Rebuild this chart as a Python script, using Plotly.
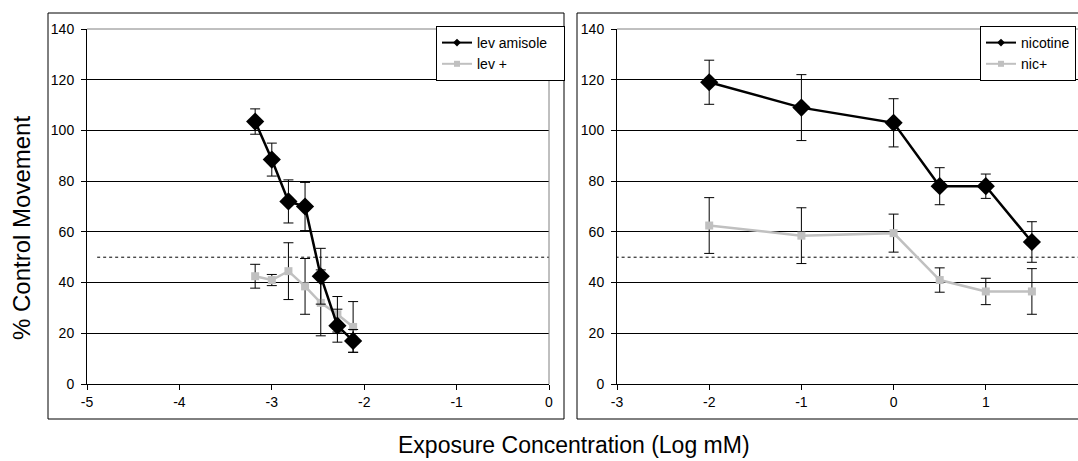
import plotly.graph_objects as go

# ---- data ----
lev_x = [-3.18, -3.0, -2.82, -2.64, -2.47, -2.29, -2.12]
levamisole = [103.5, 88.5, 72, 70, 42.5, 23, 17]
levamisole_err = [5, 6.5, 8.5, 9.5, 11, 6.5, 4.5]
lev_plus = [42.5, 41, 44.5, 38.5, 32, 27.5, 22.5]
lev_plus_err = [4.7, 2.2, 11.2, 11, 13, 7, 10]

nic_x = [-2, -1, 0, 0.5, 1, 1.5]
nicotine = [119, 109, 103, 78, 78, 56]
nicotine_err = [8.7, 13, 9.5, 7.3, 4.8, 8]
nic_plus = [62.5, 58.5, 59.5, 41, 36.5, 36.5]
nic_plus_err = [11, 11, 7.5, 4.8, 5.2, 9]

threshold = 50
y_ticks = [0, 20, 40, 60, 80, 100, 120, 140]
left_x_ticks = [-5, -4, -3, -2, -1, 0]
right_x_ticks = [-3, -2, -1, 0, 1, 2]

W, H = 1078, 461
FONT = "Liberation Sans, Arial, sans-serif"
BLACK = "#000000"
GREY = "#c0c0c0"
PAD = "\u00a0\u00a0\u00a0"  # extra room at the end of a legend label


def px(x):
    return x / W


def py(y):
    return 1 - y / H


def tick_text(vals):
    # plain hyphen for negative numbers
    return [str(v) for v in vals]


fig = go.Figure()


def add_series(x, y, err, color, symbol, size, lw, xa, ya):
    fig.add_trace(go.Scatter(
        x=x, y=y, mode="lines+markers", xaxis=xa, yaxis=ya, showlegend=False,
        line=dict(color=color, width=lw),
        marker=dict(color=color, symbol=symbol, size=size),
        error_y=dict(type="data", array=err, visible=True, color=BLACK,
                     thickness=1, width=5),
    ))


# grey series underneath, black series on top
add_series(lev_x, lev_plus, lev_plus_err, GREY, "square", 8, 2.5, "x", "y")
add_series(lev_x, levamisole, levamisole_err, BLACK, "diamond", 14, 2.5, "x", "y")
add_series(nic_x, nic_plus, nic_plus_err, GREY, "square", 8, 2.5, "x2", "y2")
add_series(nic_x, nicotine, nicotine_err, BLACK, "diamond", 14, 2.5, "x2", "y2")


# legend entries (small marker on a line)
def add_legend_entry(name, color, symbol, legend, xa, ya):
    fig.add_trace(go.Scatter(
        x=[None], y=[None], name=name, mode="lines+markers", legend=legend,
        xaxis=xa, yaxis=ya,
        line=dict(color=color, width=2),
        marker=dict(color=color, symbol=symbol, size=6),
    ))


add_legend_entry("lev amisole" + PAD, BLACK, "diamond", "legend", "x", "y")
add_legend_entry("lev +", GREY, "square", "legend", "x", "y")
add_legend_entry("nicotine", BLACK, "diamond", "legend2", "x2", "y2")
add_legend_entry("nic+", GREY, "square", "legend2", "x2", "y2")

ydom = [py(384), py(29)]
axis_common = dict(
    showgrid=False, zeroline=False, showline=True, linecolor=BLACK, linewidth=1,
    ticks="outside", ticklen=5, tickcolor=BLACK, tickwidth=1, automargin=False,
    tickfont=dict(family=FONT, size=14, color=BLACK),
)
yaxis_common = dict(
    axis_common, range=[0, 140], tickvals=y_ticks, showgrid=True,
    gridcolor=BLACK, gridwidth=1, ticklabelstandoff=4,
)

legend_common = dict(
    xanchor="left", yanchor="top", bgcolor="white", bordercolor=BLACK,
    borderwidth=1, font=dict(family=FONT, size=14, color=BLACK),
    itemwidth=30, tracegroupgap=0,
)

fig.update_layout(
    width=W, height=H,
    margin=dict(l=0, r=0, t=0, b=0, autoexpand=False),
    paper_bgcolor="white", plot_bgcolor="white",
    xaxis=dict(axis_common, domain=[px(87), px(549)], range=[-5, 0],
               tickvals=left_x_ticks, ticktext=tick_text(left_x_ticks), anchor="y"),
    yaxis=dict(yaxis_common, domain=ydom, anchor="x"),
    xaxis2=dict(axis_common, domain=[px(617), 1.0], range=[-3, 2],
                tickvals=right_x_ticks, ticktext=tick_text(right_x_ticks), anchor="y2"),
    yaxis2=dict(yaxis_common, domain=ydom, anchor="x2"),
    legend=dict(legend_common, x=px(436), y=py(26)),
    legend2=dict(legend_common, x=px(980), y=py(26)),
    showlegend=True,
)

shapes = []
# outer panel frames
shapes.append(dict(type="rect", xref="paper", yref="paper",
                   x0=px(48), x1=px(564), y0=py(419), y1=py(13),
                   line=dict(color=BLACK, width=1), layer="below"))
shapes.append(dict(type="rect", xref="paper", yref="paper",
                   x0=px(577), x1=px(1090), y0=py(419), y1=py(13),
                   line=dict(color=BLACK, width=1), layer="below"))
# grey plot-area border on top and right
for xa, ya in (("x", "y"), ("x2", "y2")):
    shapes.append(dict(type="line", xref=f"{xa} domain", yref=f"{ya} domain",
                       x0=0, x1=1, y0=1, y1=1,
                       line=dict(color="#808080", width=1)))
shapes.append(dict(type="line", xref="x domain", yref="y domain",
                   x0=1, x1=1, y0=0, y1=1,
                   line=dict(color="#808080", width=1)))
# 50% reference lines
shapes.append(dict(type="line", xref="x", yref="y", x0=-4.89, x1=0,
                   y0=threshold, y1=threshold,
                   line=dict(color=BLACK, width=1, dash="3px,3px"), layer="below"))
shapes.append(dict(type="line", xref="x2", yref="y2", x0=-3.08, x1=2,
                   y0=threshold, y1=threshold,
                   line=dict(color=BLACK, width=1, dash="3px,3px"), layer="below"))
fig.update_layout(shapes=shapes)

fig.add_annotation(text="% Control Movement", xref="paper", yref="paper",
                   x=px(21), y=py(228), xanchor="center", yanchor="middle",
                   textangle=-90, showarrow=False,
                   font=dict(family=FONT, size=24, color=BLACK))
fig.add_annotation(text="Exposure Concentration (Log mM)", xref="paper", yref="paper",
                   x=px(574), y=py(445), xanchor="center", yanchor="middle",
                   showarrow=False,
                   font=dict(family=FONT, size=23, color=BLACK))

fig.write_html("out.html")
